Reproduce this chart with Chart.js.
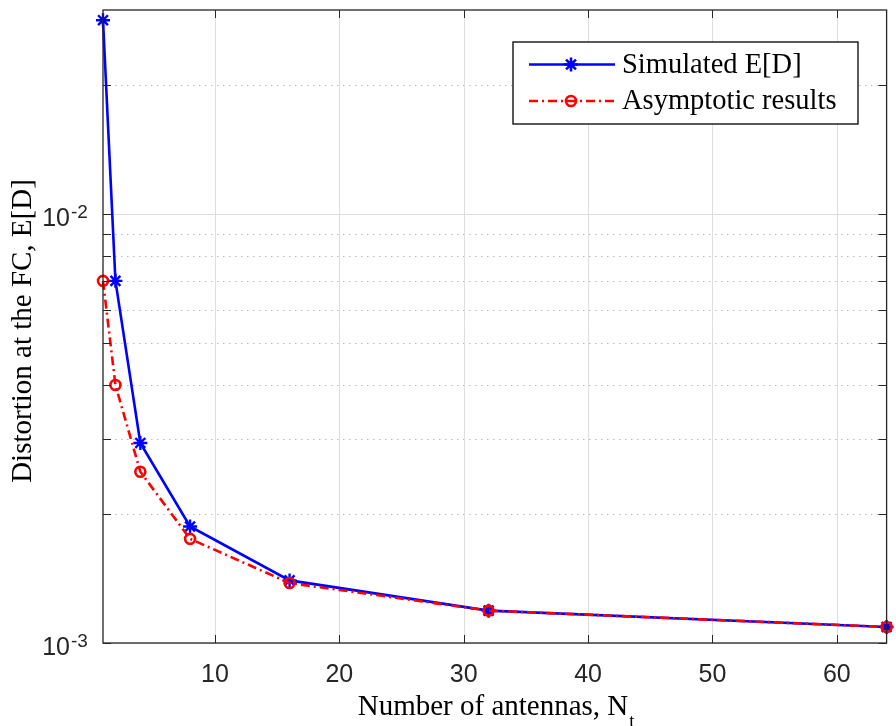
<!DOCTYPE html>
<html>
<head>
<meta charset="utf-8">
<title>Distortion vs. number of antennas</title>
<script src="https://cdn.jsdelivr.net/npm/chart.js@4.4.1/dist/chart.umd.min.js"></script>
<style>
  html, body { margin: 0; padding: 0; background: #fff; }
  canvas { display: block; }
</style>
</head>
<body>
<canvas id="distChart" width="896" height="726"></canvas>
<script>
// Number of transmit antennas
const antennas = [1, 2, 4, 8, 16, 32, 64];
// Simulated E[D]
const simulated = [0.0284, 0.0070, 0.00293, 0.00187, 0.00140, 0.00119, 0.00109];
// Asymptotic results
const asymptotic = [0.0070, 0.0040, 0.00251, 0.00175, 0.00138, 0.00119, 0.00109];

const xTicks = [10, 20, 30, 40, 50, 60];
const yMajorTicks = [0.001, 0.01];
const yMinorTicks = [0.002, 0.003, 0.004, 0.005, 0.006, 0.007, 0.008, 0.009, 0.02];
const yMajorLabels = ['-3', '-2'];

const AXIS_COLOR = '#262626';
const SANS = '"Liberation Sans", Arial, sans-serif';
const SERIF = '"Liberation Serif", "Times New Roman", serif';

// draws grid, box, ticks, tick labels, axis titles and legend
const matlabAxes = {
    id: 'matlabAxes',
    beforeDatasetsDraw(chart) {
        const ctx = chart.ctx;
        const a = chart.chartArea;
        const xs = chart.scales.x, ys = chart.scales.y;
        ctx.save();
        // minor grid (dotted)
        ctx.strokeStyle = '#bdbdbd';
        ctx.lineWidth = 1;
        ctx.setLineDash([1.5, 4.5]);
        yMinorTicks.forEach(v => {
            const y = Math.round(ys.getPixelForValue(v)) + 0.5;
            ctx.beginPath();
            ctx.moveTo(a.left, y);
            ctx.lineTo(a.right, y);
            ctx.stroke();
        });
        // major grid
        ctx.setLineDash([]);
        ctx.strokeStyle = '#dedede';
        yMajorTicks.forEach(v => {
            const y = Math.round(ys.getPixelForValue(v)) + 0.5;
            ctx.beginPath();
            ctx.moveTo(a.left, y);
            ctx.lineTo(a.right, y);
            ctx.stroke();
        });
        xTicks.forEach(v => {
            const x = Math.round(xs.getPixelForValue(v)) + 0.5;
            ctx.beginPath();
            ctx.moveTo(x, a.top);
            ctx.lineTo(x, a.bottom);
            ctx.stroke();
        });
        ctx.restore();
    },
    afterDatasetsDraw(chart) {
        const ctx = chart.ctx;
        const a = chart.chartArea;
        const xs = chart.scales.x, ys = chart.scales.y;
        ctx.save();
        // axes box
        ctx.strokeStyle = AXIS_COLOR;
        ctx.lineWidth = 1.3;
        ctx.strokeRect(a.left, a.top, a.right - a.left, a.bottom - a.top);

        // inward ticks
        ctx.lineWidth = 1;
        const tl = 8;
        xTicks.forEach(v => {
            const x = Math.round(xs.getPixelForValue(v)) + 0.5;
            ctx.beginPath();
            ctx.moveTo(x, a.bottom); ctx.lineTo(x, a.bottom - tl);
            ctx.moveTo(x, a.top); ctx.lineTo(x, a.top + tl);
            ctx.stroke();
        });
        yMajorTicks.concat(yMinorTicks).forEach(v => {
            const y = Math.round(ys.getPixelForValue(v)) + 0.5;
            ctx.beginPath();
            ctx.moveTo(a.left, y); ctx.lineTo(a.left + tl, y);
            ctx.moveTo(a.right, y); ctx.lineTo(a.right - tl, y);
            ctx.stroke();
        });

        // x tick labels
        ctx.fillStyle = AXIS_COLOR;
        ctx.font = '25px ' + SANS;
        ctx.textAlign = 'center';
        ctx.textBaseline = 'alphabetic';
        xTicks.forEach(v => {
            ctx.fillText(String(v), xs.getPixelForValue(v), a.bottom + 39);
        });

        // y tick labels: 10^n
        yMajorTicks.forEach((v, i) => {
            const y = ys.getPixelForValue(v);
            ctx.font = '25px ' + SANS;
            ctx.textAlign = 'right';
            ctx.fillText('10', 70, y + 12);
            ctx.font = '19px ' + SANS;
            ctx.textAlign = 'left';
            ctx.fillText(yMajorLabels[i], 71, y + 4);
        });

        // axis titles
        ctx.fillStyle = '#000';
        ctx.font = '29px ' + SERIF;
        ctx.textAlign = 'left';
        const xl = 'Number of antennas, N';
        const xw = ctx.measureText(xl).width;
        const xc = 493;
        ctx.fillText(xl, xc - xw / 2, 715);
        ctx.font = '19px ' + SERIF;
        ctx.fillText('t', xc + xw / 2 + 1, 727);

        ctx.save();
        ctx.translate(31, 331);
        ctx.rotate(-Math.PI / 2);
        ctx.font = '29px ' + SERIF;
        ctx.textAlign = 'center';
        ctx.fillText('Distortion at the FC, E[D]', 0, 0);
        ctx.restore();

        // legend
        const lx = 513, ly = 42, lw = 345, lh = 82;
        ctx.fillStyle = '#fff';
        ctx.fillRect(lx, ly, lw, lh);
        ctx.strokeStyle = '#000';
        ctx.lineWidth = 1.3;
        ctx.strokeRect(lx, ly, lw, lh);

        const rows = [
            { y: 64.5, label: 'Simulated E[D]', ds: chart.data.datasets[0] },
            { y: 101, label: 'Asymptotic results', ds: chart.data.datasets[1] }
        ];
        rows.forEach(r => {
            ctx.strokeStyle = r.ds.borderColor;
            ctx.lineWidth = r.ds.borderWidth;
            ctx.setLineDash(r.ds.borderDash || []);
            ctx.beginPath();
            ctx.moveTo(529, r.y); ctx.lineTo(615, r.y);
            ctx.stroke();
            ctx.setLineDash([]);
            ctx.strokeStyle = r.ds.pointBorderColor;
            ctx.fillStyle = r.ds.pointBackgroundColor;
            Chart.helpers.drawPoint(ctx, {
                pointStyle: r.ds.pointStyle,
                radius: r.ds.pointRadius,
                borderWidth: r.ds.pointBorderWidth,
                rotation: 0
            }, 571, r.y);
            ctx.fillStyle = '#000';
            ctx.font = '28.5px ' + SERIF;
            ctx.textAlign = 'left';
            ctx.textBaseline = 'middle';
            ctx.fillText(r.label, 622, r.y + 1);
        });
        ctx.restore();
    }
};

new Chart(document.getElementById('distChart'), {
    type: 'line',
    data: {
        labels: antennas,
        datasets: [{
            label: 'Simulated E[D]',
            data: antennas.map((x, i) => ({ x: x, y: simulated[i] })),
            borderColor: '#0000ff',
            backgroundColor: '#0000ff',
            borderWidth: 2.6,
            pointStyle: 'star',
            pointRadius: 7,
            pointBorderWidth: 2.4,
            pointBorderColor: '#0000ff',
            pointBackgroundColor: '#0000ff',
            tension: 0,
            clip: false,
            order: 2
        }, {
            label: 'Asymptotic results',
            data: antennas.map((x, i) => ({ x: x, y: asymptotic[i] })),
            borderColor: '#ff0000',
            backgroundColor: 'rgba(0,0,0,0)',
            borderWidth: 2.6,
            borderDash: [9, 4, 2, 4],
            pointStyle: 'circle',
            pointRadius: 5,
            pointBorderWidth: 2.6,
            pointBorderColor: '#ff0000',
            pointBackgroundColor: 'rgba(0,0,0,0)',
            tension: 0,
            clip: false,
            order: 1
        }]
    },
    options: {
        responsive: false,
        animation: false,
        layout: { padding: { left: 103, top: 10, right: 6, bottom: 83 } },
        plugins: { legend: { display: false }, tooltip: { enabled: false } },
        scales: {
            x: { type: 'linear', min: 1, max: 64, display: false },
            y: { type: 'logarithmic', min: 0.001, max: 0.03, display: false }
        }
    },
    plugins: [matlabAxes]
});
</script>
</body>
</html>
